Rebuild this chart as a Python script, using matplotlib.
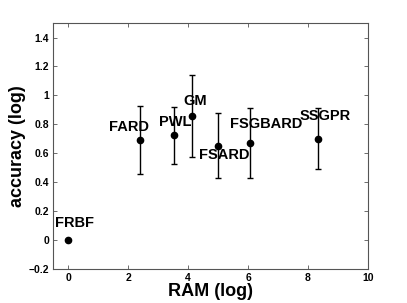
import matplotlib
matplotlib.use('Agg')
import matplotlib.pyplot as plt

plt.rcParams['font.family'] = ['Liberation Sans', 'DejaVu Sans']
plt.rcParams['font.weight'] = 'bold'

# data
names = ['FRBF', 'FARD', 'PWL', 'GM', 'FSARD', 'FSGBARD', 'SSGPR']
ram = [0.0, 2.4, 3.53, 4.12, 5.0, 6.05, 8.32]
acc = [0.0, 0.69, 0.725, 0.86, 0.65, 0.67, 0.70]
err_lo = [0.0, 0.46, 0.525, 0.575, 0.43, 0.43, 0.49]
err_hi = [0.0, 0.925, 0.92, 1.14, 0.875, 0.91, 0.915]
label_x = [0.2, 2.01, 3.56, 4.22, 5.2, 6.59, 8.57]
label_y = [0.12, 0.78, 0.816, 0.962, 0.591, 0.803, 0.855]

fig = plt.figure(figsize=(4.07, 3.03), dpi=100)
ax = fig.add_axes([0.131, 0.112, 0.773, 0.812])

# FRBF has no error bar
ax.plot(ram[0], acc[0], 'o', color='black', markersize=4.5)
lo = [a - l for a, l in zip(acc[1:], err_lo[1:])]
hi = [h - a for a, h in zip(acc[1:], err_hi[1:])]
ax.errorbar(ram[1:], acc[1:], yerr=[lo, hi], fmt='o', color='black',
            markersize=4.5, elinewidth=1.0, capsize=2.5, capthick=1.0)

for n, x, y in zip(names, label_x, label_y):
    ax.text(x, y, n, ha='center', va='center', fontsize=10.5, fontweight='bold')

ax.set_xlim(-0.5, 10)
ax.set_ylim(-0.2, 1.5)
ax.set_xticks([0, 2, 4, 6, 8, 10])
ax.set_yticks([-0.2, 0, 0.2, 0.4, 0.6, 0.8, 1.0, 1.2, 1.4])
ax.set_yticklabels(['\u22120.2', '0', '0.2', '0.4', '0.6', '0.8', '1', '1.2', '1.4'])
ax.tick_params(direction='in', top=True, right=True, length=3, labelsize=7.5,
               color='#555555', width=0.6, pad=3)
for s in ax.spines.values():
    s.set_color('#555555')
    s.set_linewidth(0.8)
for t in ax.get_xticklabels() + ax.get_yticklabels():
    t.set_fontweight('bold')

ax.set_xlabel('RAM (log)', fontsize=13, fontweight='bold', labelpad=0)
ax.set_ylabel('accuracy (log)', fontsize=13, fontweight='bold', labelpad=2)

fig.savefig('out.png', dpi=100)
